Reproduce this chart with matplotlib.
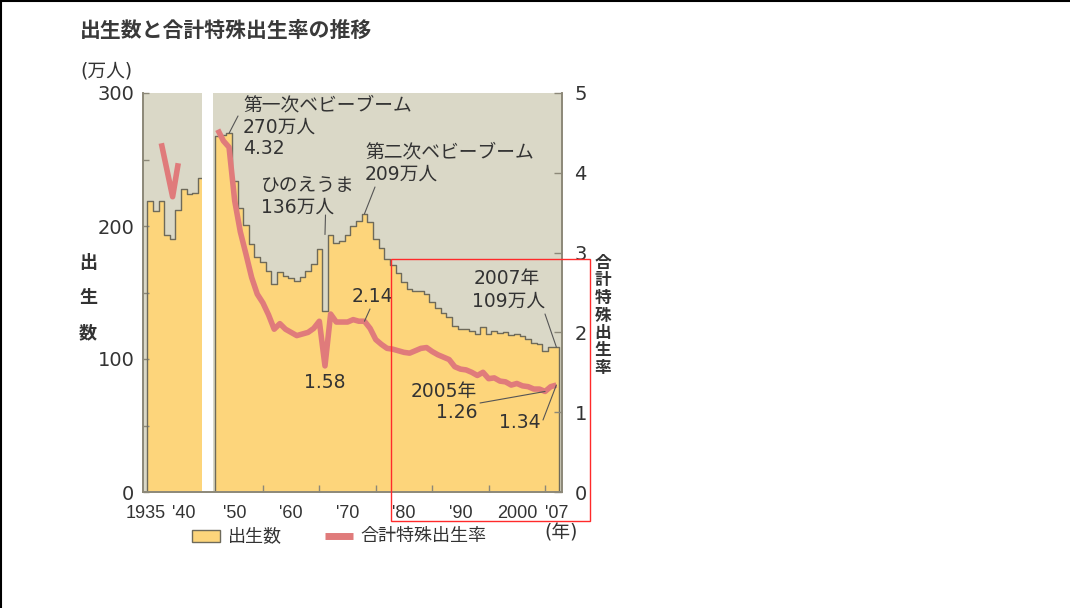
"""Births and total fertility rate in Japan, 1935-2007."""

import matplotlib
matplotlib.use("Agg")
import matplotlib.pyplot as plt
import matplotlib.patches as mpatches
import matplotlib.transforms as mtransforms
from matplotlib.lines import Line2D
import numpy as np

plt.rcParams["font.family"] = ["DejaVu Sans", "Noto Sans CJK JP"]

W, H = 1070, 608

COLORS = {
    "bg": "#dad8c7",
    "bar": "#fdd57b",
    "edge": "#6e6a5a",
    "line": "#e07b7b",
    "text": "#333333",
    "spine": "#8c8878",
    "box": "#ff2a2a",
}

# births (10k people), prewar and postwar blocks
prewar_years = list(range(1935, 1945))
prewar_births = [219, 211, 219, 193, 190, 212, 228, 224, 225, 236]
postwar_years = list(range(1947, 2008))
postwar_births = [
    267.9, 268.2, 269.7, 233.8, 213.8, 200.5, 186.8, 177.0, 173.1, 166.5,
    156.7, 165.3, 162.6, 160.6, 158.9, 161.9, 166.0, 171.7, 182.4, 136.1,
    193.6, 187.2, 188.9, 193.4, 200.1, 203.9, 209.2, 203.0, 190.1, 183.3,
    175.5, 170.9, 164.3, 157.7, 152.9, 151.5, 150.9, 149.0, 143.2, 138.3,
    134.7, 131.4, 124.7, 122.2, 122.3, 120.9, 118.8, 123.8, 118.7, 120.7,
    119.2, 120.3, 117.8, 119.1, 117.1, 115.4, 112.4, 111.1, 106.3, 109.3,
    109.0,
]

# total fertility rate
prewar_tfr_years = [1937, 1939, 1940]
prewar_tfr = [4.37, 3.70, 4.12]
postwar_tfr = [
    4.54, 4.40, 4.32, 3.65, 3.26, 2.98, 2.69, 2.48, 2.37, 2.22,
    2.04, 2.11, 2.04, 2.00, 1.96, 1.98, 2.00, 2.05, 2.14, 1.58,
    2.23, 2.13, 2.13, 2.13, 2.16, 2.14, 2.14, 2.05, 1.91, 1.85,
    1.80, 1.79, 1.77, 1.75, 1.74, 1.77, 1.80, 1.81, 1.76, 1.72,
    1.69, 1.66, 1.57, 1.54, 1.53, 1.50, 1.46, 1.50, 1.42, 1.43,
    1.39, 1.38, 1.34, 1.36, 1.33, 1.32, 1.29, 1.29, 1.26, 1.32,
    1.34,
]

tick_years = [1935, 1940, 1950, 1960, 1970, 1980, 1990, 2000, 2007]
tick_labels = ["1935", "'40", "'50", "'60", "'70", "'80", "'90", "2000", "'07"]


def fx(x):
    return x / W


def fy(y):
    return 1 - y / H


def step_outline(years, values):
    edges = np.arange(years[0] - 0.5, years[-1] + 1.5)
    xs = np.repeat(edges, 2)
    ys = np.concatenate([[0], np.repeat(values, 2), [0]])
    return xs, ys


def birth_at(year):
    return postwar_births[postwar_years.index(year)]


def tfr_at(year):
    return postwar_tfr[postwar_years.index(year)]


def label(x, y_first, lines, ha="left", step=22):
    # one fig.text per line so that each line keeps its own box
    for i, line in enumerate(lines):
        fig.text(fx(x), fy(y_first + step * i), line, fontsize=13.5,
                 color=COLORS["text"], ha=ha, va="center")


fig = plt.figure(figsize=(W / 100, H / 100), dpi=100, facecolor="white")
ax = fig.add_axes([fx(142.7), fy(492), (562 - 142.7) / W, (492 - 93) / H])
ax.set_facecolor(COLORS["bg"])
ax.set_xlim(1933.7, 2008.0)
ax.set_ylim(0, 300)

for yrs, vals in [(prewar_years, prewar_births), (postwar_years, postwar_births)]:
    ax.bar(yrs, vals, width=1.0, color=COLORS["bar"], edgecolor="none", zorder=1)
    xs, ys = step_outline(yrs, vals)
    ax.plot(xs, ys, color=COLORS["edge"], lw=1.0, zorder=2)

# no data for 1945-46
ax.axvspan(1944.15, 1946.2, color="white", zorder=3, lw=0)

ax.set_yticks(range(0, 301, 100))
ax.set_yticks(range(50, 300, 100), minor=True)
ax.tick_params(axis="y", which="both", direction="in", length=4, width=1,
               color=COLORS["spine"], pad=6, labelsize=14, labelcolor=COLORS["text"])

ax.set_xticks(tick_years, tick_labels)
ax.set_xticks(range(1940, 2006, 5), minor=True)
ax.tick_params(axis="x", which="major", length=0, pad=9, labelsize=13,
               labelcolor=COLORS["text"])
ax.tick_params(axis="x", which="minor", direction="in", length=5, width=1,
               color=COLORS["spine"])
for lab in ax.get_xticklabels():
    lab.set_family(["Liberation Sans", "DejaVu Sans"])
# nudge the two crowded labels apart
shifts = {"1935": -3 / 72, "'40": 4 / 72}
for lab in ax.get_xticklabels():
    dx = shifts.get(lab.get_text(), 0)
    if dx:
        lab.set_transform(lab.get_transform()
                          + mtransforms.ScaledTranslation(dx, 0, fig.dpi_scale_trans))

ax.spines["top"].set_visible(False)
for side in ["left", "right", "bottom"]:
    ax.spines[side].set_color(COLORS["spine"])
    ax.spines[side].set_linewidth(1.2)
    ax.spines[side].set_zorder(5)

ax2 = ax.twinx()
ax2.set_ylim(0, 5)
ax2.plot(prewar_tfr_years, prewar_tfr, color=COLORS["line"], lw=4,
         solid_joinstyle="round", solid_capstyle="butt")
ax2.plot(postwar_years, postwar_tfr, color=COLORS["line"], lw=4,
         solid_joinstyle="round", solid_capstyle="butt")
ax2.set_yticks(range(0, 6))
ax2.tick_params(axis="y", direction="in", length=6, width=1, color=COLORS["spine"],
                pad=9, labelsize=14, labelcolor=COLORS["text"])
ax2.spines["top"].set_visible(False)
for side in ["left", "right", "bottom"]:
    ax2.spines[side].set_color(COLORS["spine"])
    ax2.spines[side].set_linewidth(1.2)

# annotations
lead = dict(arrowstyle="-", lw=0.8, color="#555555", shrinkA=0, shrinkB=0)

label(243, 105, ["第一次ベビーブーム", "270万人", "4.32"])
ax.annotate("", xy=(1949, birth_at(1949)), xytext=(238, H - 116),
            textcoords="figure pixels", arrowprops=lead)

label(261, 185, ["ひのえうま", "136万人"])
ax.annotate("", xy=(1966, max(birth_at(1965), birth_at(1967))), xytext=(325.5, H - 215),
            textcoords="figure pixels", arrowprops=lead)

label(365, 152, ["第二次ベビーブーム", "209万人"])
ax.annotate("", xy=(1973, birth_at(1973)), xytext=(375, H - 187),
            textcoords="figure pixels", arrowprops=lead)

label(372, 297, ["2.14"], ha="center")
ax2.annotate("", xy=(1973, tfr_at(1973)), xytext=(370, H - 309),
             textcoords="figure pixels", arrowprops=lead)

label(325, 382, ["1.58"], ha="center")

label(507, 279, ["2007年"], ha="center")
label(509, 301, ["109万人"], ha="center")
ax.annotate("", xy=(2007, birth_at(2007)), xytext=(545, H - 314),
            textcoords="figure pixels", arrowprops=lead)

label(477, 391, ["2005年", "1.26"], ha="right")
ax2.annotate("", xy=(2005, tfr_at(2005)), xytext=(480, H - 403),
             textcoords="figure pixels", arrowprops=lead)

label(520, 422, ["1.34"], ha="center")
ax2.annotate("", xy=(2007, tfr_at(2007)), xytext=(543, H - 420),
             textcoords="figure pixels", arrowprops=lead)

# titles and axis labels
fig.text(fx(80), fy(30), "出生数と合計特殊出生率の推移", fontsize=15, fontweight="bold",
         color="#3a3a3a", ha="left", va="center", family=["Noto Sans CJK JP"])
fig.text(fx(80), fy(71), "(万人)", fontsize=13.5, color=COLORS["text"], ha="left", va="center")
fig.text(fx(561), fy(533), "(年)", fontsize=13.5, color=COLORS["text"], ha="center", va="center")

for i, ch in enumerate("出生数"):
    fig.text(fx(88), fy(263 + 35 * i), ch, fontsize=13, fontweight="bold",
             color=COLORS["text"], ha="center", va="center")
for i, ch in enumerate("合計特殊出生率"):
    fig.text(fx(603), fy(263 + 17.5 * i), ch, fontsize=12, fontweight="bold",
             color=COLORS["text"], ha="center", va="center")

# legend
fig.patches.append(mpatches.Rectangle(
    (fx(192), fy(541.5)), 28 / W, 11.5 / H, facecolor=COLORS["bar"],
    edgecolor=COLORS["edge"], lw=1, transform=fig.transFigure))
fig.text(fx(228), fy(536), "出生数", fontsize=13, color=COLORS["text"], ha="left", va="center")
fig.add_artist(Line2D([fx(325), fx(353)], [fy(535.5), fy(535.5)], color=COLORS["line"],
                      lw=5, solid_capstyle="butt", transform=fig.transFigure))
fig.text(fx(360), fy(536), "合計特殊出生率", fontsize=13, color=COLORS["text"],
         ha="left", va="center")

# highlight box and frame edges
fig.patches.append(mpatches.Rectangle(
    (fx(390.7), fy(521)), (590 - 390.7) / W, (521 - 259.3) / H, fill=False,
    edgecolor=COLORS["box"], lw=1.0, transform=fig.transFigure, zorder=10))
fig.add_artist(Line2D([0, 1], [fy(0.7), fy(0.7)], color="black", lw=1.5,
                      transform=fig.transFigure))
fig.add_artist(Line2D([fx(0.8), fx(0.8)], [0, 1], color="black", lw=1.5,
                      transform=fig.transFigure))

fig.savefig("out.png", dpi=100, facecolor="white")
